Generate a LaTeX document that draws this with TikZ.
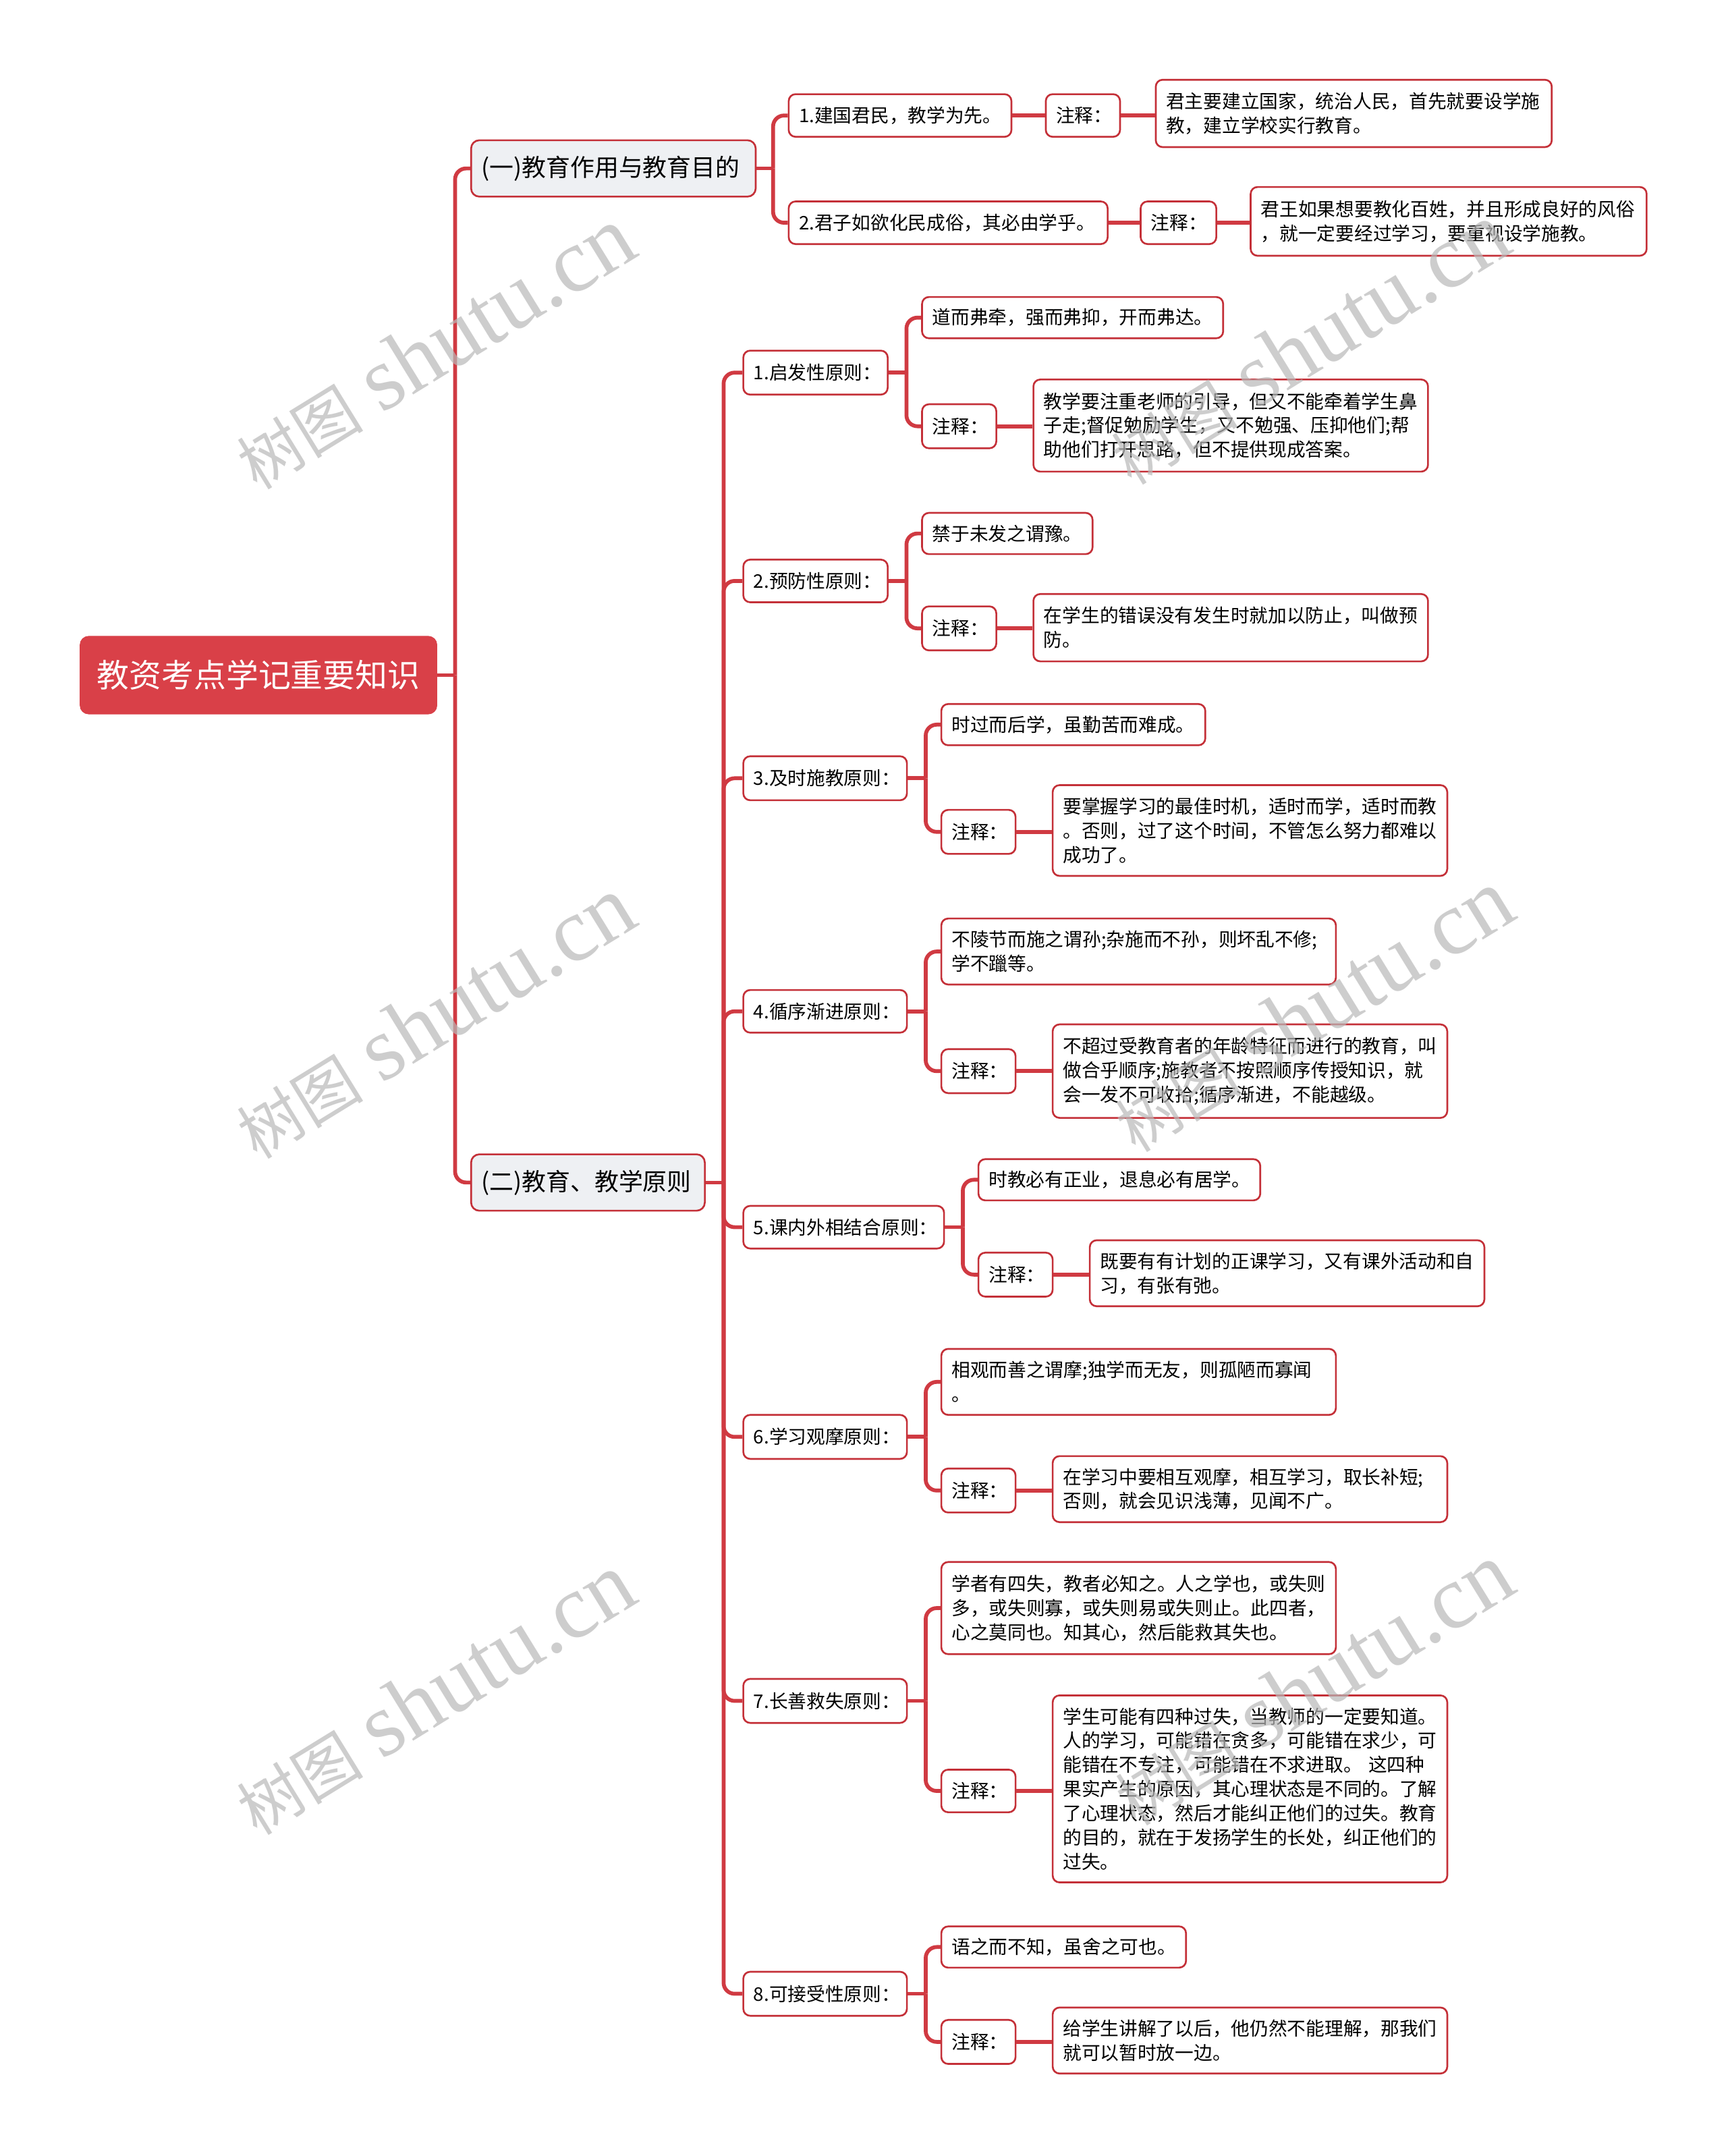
\documentclass[tikz,border=0pt]{standalone}
\usepackage{fontspec}
\setmainfont{Noto Sans CJK SC}
\newfontfamily\wmlat{Liberation Serif}
\definecolor{linecol}{RGB}{208,58,66}
\definecolor{bordercol}{RGB}{196,48,56}
\definecolor{rootred}{RGB}{217,64,72}
\definecolor{lvfill}{RGB}{238,240,243}
\definecolor{wmgray}{RGB}{185,185,185}
\newcommand\wmtext{{\fontsize{46}{46}\selectfont 树图}\hspace{14pt}{\wmlat\fontsize{66}{66}\selectfont shutu.cn}}
\tikzset{
  conn/.style={draw=linecol, line width=2.8pt, rounded corners=8pt},
  bx/.style={draw=bordercol, line width=1.3pt, rounded corners=5pt, fill=white,
    inner xsep=7.5pt, inner ysep=2pt, align=left, anchor=west, text=black,
    font=\fontsize{13.6}{17.6}\selectfont},
  lv/.style={bx, fill=lvfill, rounded corners=6pt, font=\fontsize{17.6}{21}\selectfont},
  rootbox/.style={draw=rootred, fill=rootred, line width=1pt, rounded corners=6pt,
    inner xsep=12pt, inner ysep=2pt, align=center, anchor=west, text=white,
    font=\fontsize{23.5}{28}\selectfont},
  wm/.style={text=wmgray, opacity=0.7, rotate=31.6, inner sep=0pt}
}
\begin{document}
\begin{tikzpicture}[x=1pt,y=-1pt]
\useasboundingbox (0,0) rectangle (1256.5,1568);
\fill[white] (0,0) rectangle (1256.5,1568);

% root and level 1
\node[rootbox, text width=235pt, minimum height=56pt] (root) at (58,491) {教资考点学记重要知识};
\node[lv, text width=192pt, minimum height=41pt] (A) at (342,122.5) {(一)教育作用与教育目的};
\node[lv, text width=155pt, minimum height=41pt] (B) at (342,860) {(二)教育、教学原则};

% branch A
\node[bx, text width=147pt, minimum height=31pt] (A1) at (573,84) {1.建国君民，教学为先。};
\node[bx, text width=39pt, minimum height=31pt] (A1z) at (760,84) {注释：};
\node[bx, text width=273pt, minimum height=49pt] (A1n) at (840,82.5) {君主要建立国家，统治人民，首先就要设学施\\教，建立学校实行教育。};
\node[bx, text width=217pt, minimum height=31pt] (A2) at (573,162) {2.君子如欲化民成俗，其必由学乎。};
\node[bx, text width=40pt, minimum height=31pt] (A2z) at (829,162) {注释：};
\node[bx, text width=273pt, minimum height=50pt] (A2n) at (909,161) {君王如果想要教化百姓，并且形成良好的风俗\\，就一定要经过学习，要重视设学施教。};

% branch B
\node[bx, text width=90pt, minimum height=32pt] (P1) at (540,271) {1.启发性原则：};
\node[bx, text width=204pt, minimum height=30pt] (P1a) at (670,231) {道而弗牵，强而弗抑，开而弗达。};
\node[bx, text width=39pt, minimum height=32pt] (P1z) at (670,310) {注释：};
\node[bx, text width=272pt, minimum height=67pt] (P1n) at (751,309.5) {教学要注重老师的引导，但又不能牵着学生鼻\\子走;督促勉励学生，又不勉强、压抑他们;帮\\助他们打开思路，但不提供现成答案。};

\node[bx, text width=90pt, minimum height=31pt] (P2) at (540,422.5) {2.预防性原则：};
\node[bx, text width=109pt, minimum height=30pt] (P2a) at (670,388) {禁于未发之谓豫。};
\node[bx, text width=39pt, minimum height=32pt] (P2z) at (670,457) {注释：};
\node[bx, text width=272pt, minimum height=49pt] (P2n) at (751,456.5) {在学生的错误没有发生时就加以防止，叫做预\\防。};

\node[bx, text width=104pt, minimum height=32pt] (P3) at (540,566) {3.及时施教原则：};
\node[bx, text width=177pt, minimum height=30pt] (P3a) at (684,527) {时过而后学，虽勤苦而难成。};
\node[bx, text width=39pt, minimum height=32pt] (P3z) at (684,605) {注释：};
\node[bx, text width=272pt, minimum height=66pt] (P3n) at (765,604) {要掌握学习的最佳时机，适时而学，适时而教\\。否则，过了这个时间，不管怎么努力都难以\\成功了。};

\node[bx, text width=104pt, minimum height=31pt] (P4) at (540,735.5) {4.循序渐进原则：};
\node[bx, text width=272pt, minimum height=48pt] (P4a) at (684,692) {不陵节而施之谓孙;杂施而不孙，则坏乱不修;\\学不躐等。};
\node[bx, text width=39pt, minimum height=32pt] (P4z) at (684,779) {注释：};
\node[bx, text width=272pt, minimum height=68pt] (P4n) at (765,779) {不超过受教育者的年龄特征而进行的教育，叫\\做合乎顺序;施教者不按照顺序传授知识，就\\会一发不可收拾;循序渐进，不能越级。};

\node[bx, text width=131pt, minimum height=31pt] (P5) at (540,892.5) {5.课内外相结合原则：};
\node[bx, text width=190pt, minimum height=30pt] (P5a) at (711,858) {时教必有正业，退息必有居学。};
\node[bx, text width=39pt, minimum height=32pt] (P5z) at (711,927) {注释：};
\node[bx, text width=272pt, minimum height=48pt] (P5n) at (792,926) {既要有有计划的正课学习，又有课外活动和自\\习，有张有弛。};

\node[bx, text width=104pt, minimum height=32pt] (P6) at (540,1045) {6.学习观摩原则：};
\node[bx, text width=272pt, minimum height=48pt] (P6a) at (684,1005) {相观而善之谓摩;独学而无友，则孤陋而寡闻\\。};
\node[bx, text width=39pt, minimum height=32pt] (P6z) at (684,1084) {注释：};
\node[bx, text width=272pt, minimum height=48pt] (P6n) at (765,1083) {在学习中要相互观摩，相互学习，取长补短;\\否则，就会见识浅薄，见闻不广。};

\node[bx, text width=104pt, minimum height=32pt] (P7) at (540,1237) {7.长善救失原则：};
\node[bx, text width=272pt, minimum height=67pt] (P7a) at (684,1169.5) {学者有四失，教者必知之。人之学也，或失则\\多，或失则寡，或失则易或失则止。此四者，\\心之莫同也。知其心，然后能救其失也。};
\node[bx, text width=39pt, minimum height=31pt] (P7z) at (684,1302.5) {注释：};
\node[bx, text width=272pt, minimum height=136pt] (P7n) at (765,1301) {学生可能有四种过失，当教师的一定要知道。\\人的学习，可能错在贪多，可能错在求少，可\\能错在不专注，可能错在不求进取。 这四种\\果实产生的原因，其心理状态是不同的。了解\\了心理状态，然后才能纠正他们的过失。教育\\的目的，就在于发扬学生的长处，纠正他们的\\过失。};

\node[bx, text width=104pt, minimum height=32pt] (P8) at (540,1450) {8.可接受性原则：};
\node[bx, text width=163pt, minimum height=30pt] (P8a) at (684,1416) {语之而不知，虽舍之可也。};
\node[bx, text width=39pt, minimum height=32pt] (P8z) at (684,1485) {注释：};
\node[bx, text width=272pt, minimum height=48pt] (P8n) at (765,1484) {给学生讲解了以后，他仍然不能理解，那我们\\就可以暂时放一边。};

% connectors: root
\coordinate (j0) at ([xshift=13pt]root.east);
\draw[conn] (root.east) -- (j0);
\draw[conn] (j0) |- (A.west);
\draw[conn] (j0) |- (B.west);
% A
\coordinate (jA) at ([xshift=12pt]A.east);
\draw[conn] (A.east) -- (jA);
\draw[conn] (jA) |- (A1.west);
\draw[conn] (jA) |- (A2.west);
\draw[conn] (A1.east) -- (A1.east -| A1z.west);
\draw[conn] (A1z.east) -- (A1z.east -| A1n.west);
\draw[conn] (A2.east) -- (A2.east -| A2z.west);
\draw[conn] (A2z.east) -- (A2z.east -| A2n.west);
% B
\coordinate (jB) at ([xshift=13pt]B.east);
\draw[conn] (B.east) -- (jB);
\foreach \p in {P1,P2,P3,P4,P5,P6,P7,P8}{
  \draw[conn] (jB) |- (\p.west);
  \coordinate (j\p) at ([xshift=13pt]\p.east);
  \draw[conn] (\p.east) -- (j\p);
  \draw[conn] (j\p) |- (\p a.west);
  \draw[conn] (j\p) |- (\p z.west);
  \draw[conn] (\p z.east) -- (\p z.east -| \p n.west);
}

% watermarks
\node[wm] (w1) at (316,253) {\wmtext};
\node[wm] (w2) at (316,740) {\wmtext};
\node[wm] (w3) at (316,1232) {\wmtext};
\node[wm] (w4) at (952,250) {\wmtext};
\node[wm] (w5) at (955,735) {\wmtext};
\node[wm] (w6) at (955,1225) {\wmtext};
\end{tikzpicture}
\end{document}
